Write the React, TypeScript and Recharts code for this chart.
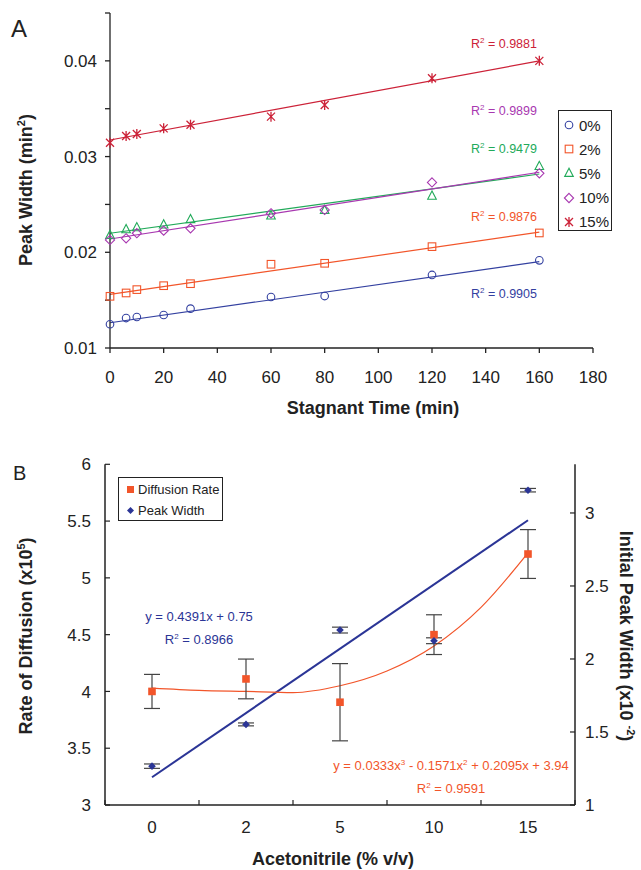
import React from 'react'
import {
  ComposedChart,
  ErrorBar,
  Line,
  Scatter,
  XAxis,
  YAxis,
} from 'recharts'

// ---- Panel A: peak width vs stagnant time ----
const times = [0, 6, 10, 20, 30, 60, 80, 120, 160]
const width0 = [0.01248, 0.01313, 0.01324, 0.01345, 0.01411, 0.01533, 0.01543, 0.01763, 0.01916]
const width2 = [0.0154, 0.01575, 0.0161, 0.01651, 0.01672, 0.01875, 0.01885, 0.02059, 0.02202]
const width5 = [0.0218, 0.0224, 0.0226, 0.0229, 0.02345, 0.02383, 0.0244, 0.0259, 0.029]
const width10 = [0.02129, 0.02146, 0.02199, 0.02226, 0.0225, 0.02407, 0.02442, 0.0273, 0.02825]
const width15 = [0.03145, 0.03215, 0.03236, 0.03295, 0.03333, 0.03417, 0.03539, 0.03818, 0.04]

// trendline ends read at t = 0 and t = 160
const trendX = [0, 160]
const trend0 = [0.01264, 0.01902]
const trend2 = [0.01561, 0.0221]
const trend5 = [0.02199, 0.02818]
const trend10 = [0.02139, 0.02836]
const trend15 = [0.03173, 0.04]

const seriesNames = ['0%', '2%', '5%', '10%', '15%']
const r2Labels = ['0.9905', '0.9876', '0.9479', '0.9899', '0.9881']
const timeTicks = [0, 20, 40, 60, 80, 100, 120, 140, 160, 180]
const widthTicks = [0.01, 0.015, 0.02, 0.025, 0.03, 0.035, 0.04, 0.045]

// ---- Panel B: diffusion rate and peak width vs acetonitrile ----
const acnLabels = ['0', '2', '5', '10', '15']
const diffRate = [4.0, 4.11, 3.905, 4.5, 5.21]
const diffErr = [0.15, 0.175, 0.34, 0.175, 0.215]
const initWidth = [1.266, 1.552, 2.198, 2.125, 3.156]
const initWidthErr = [0.015, 0.01, 0.02, 0.02, 0.012]
const widthFitX = [0, 4]
const widthFitY = [1.19, 2.95]
const diffFitX = [0, 0.5, 1, 1.5, 2, 2.5, 3, 3.5, 4]
const diffFitY = [4.03, 4.01, 4.0, 3.99, 4.05, 4.18, 4.4, 4.74, 5.22]
const rateTicks = [3, 3.5, 4, 4.5, 5, 5.5, 6]
const initTicks = [1, 1.5, 2, 2.5, 3]
const acnTicks = [-0.5, 0, 0.5, 1, 1.5, 2, 2.5, 3, 3.5, 4, 4.5]

const FONT = '"Liberation Sans", Arial, sans-serif'
const INK = '#222'
const TICK_FS = 17
const colors = ['#3340a0', '#f2552a', '#22aa5a', '#a838b0', '#cc2238']
const ORANGE = '#f2552a'
const NAVY = '#2b3596'

type ShapeKind = 'circle' | 'square' | 'triangle' | 'diamond' | 'star'
const shapes: ShapeKind[] = ['circle', 'square', 'triangle', 'diamond', 'star']

function Marker({ kind, cx, cy, color }: { kind: ShapeKind; cx: number; cy: number; color: string }) {
  const common = { fill: 'none', stroke: color, strokeWidth: 1.1 }
  if (kind === 'circle') return <circle cx={cx} cy={cy} r={3.8} {...common} />
  if (kind === 'square') return <rect x={cx - 3.8} y={cy - 3.8} width={7.6} height={7.6} {...common} />
  if (kind === 'triangle')
    return <polygon points={`${cx},${cy - 4.8} ${cx - 4.3},${cy + 3.4} ${cx + 4.3},${cy + 3.4}`} {...common} />
  if (kind === 'diamond')
    return <polygon points={`${cx},${cy - 4.6} ${cx + 4.6},${cy} ${cx},${cy + 4.6} ${cx - 4.6},${cy}`} {...common} />
  return (
    <path
      d={`M${cx - 4},${cy - 4}L${cx + 4},${cy + 4}M${cx - 4},${cy + 4}L${cx + 4},${cy - 4}M${cx},${cy - 5}L${cx},${cy + 5}`}
      {...common}
      strokeWidth={1.3}
    />
  )
}

const pts = (xs: number[], ys: number[]) => xs.map((x, i) => ({ x, y: ys[i] }))

const widthSets = [width0, width2, width5, width10, width15]
const trendSets = [trend0, trend2, trend5, trend10, trend15]

function abs(left: number, top: number, extra: React.CSSProperties = {}): React.CSSProperties {
  return { position: 'absolute', left, top, fontFamily: FONT, whiteSpace: 'nowrap', lineHeight: 1, ...extra }
}

function Rotated({ cx, cy, deg, children, size = 18 }: { cx: number; cy: number; deg: number; children: React.ReactNode; size?: number }) {
  return (
    <div
      style={abs(cx, cy, {
        transform: `translate(-50%, -50%) rotate(${deg}deg)`,
        fontSize: size,
        fontWeight: 'bold',
        color: INK,
      })}
    >
      {children}
    </div>
  )
}

function PanelA() {
  const r2Top = [287, 210, 142, 104, 37]
  return (
    <div style={{ position: 'absolute', left: 0, top: 0, width: 641, height: 430 }}>
      <ComposedChart width={641} height={430} margin={{ top: 13, right: 48, bottom: 0, left: 0 }}>
        <XAxis
          type="number"
          dataKey="x"
          domain={[0, 180]}
          ticks={timeTicks}
          height={82}
          tickSize={5}
          tickMargin={18}
          stroke={INK}
          strokeWidth={1.3}
          tick={{ fill: INK, fontSize: TICK_FS, fontFamily: FONT }}
        />
        <YAxis
          type="number"
          dataKey="y"
          domain={[0.01, 0.045]}
          ticks={widthTicks}
          width={110}
          tickSize={5}
          tickMargin={8}
          stroke={INK}
          strokeWidth={1.3}
          tick={{ fill: INK, fontSize: TICK_FS, fontFamily: FONT }}
          tickFormatter={(v: number) => (Math.abs(v * 100 - Math.round(v * 100)) < 1e-6 ? v.toFixed(2) : '')}
        />
        {trendSets.map((t, i) => (
          <Line
            key={'t' + i}
            data={pts(trendX, t)}
            dataKey="y"
            stroke={colors[i]}
            strokeWidth={1.2}
            dot={false}
            isAnimationActive={false}
          />
        ))}
        {widthSets.map((w, i) => (
          <Scatter
            key={'s' + i}
            data={pts(times, w)}
            dataKey="y"
            isAnimationActive={false}
            shape={(p: any) => <Marker kind={shapes[i]} cx={p.cx} cy={p.cy} color={colors[i]} />}
          />
        ))}
      </ComposedChart>

      <div style={abs(11, 17, { fontSize: 24, color: INK })}>A</div>
      {r2Labels.map((r, i) => (
        <div key={r} style={abs(471, r2Top[i], { fontSize: 12.5, color: colors[i] })}>
          R<sup style={{ fontSize: 8, verticalAlign: 5 }}>2</sup> = {r}
        </div>
      ))}

      <div
        style={abs(558, 110, {
          width: 54,
          height: 121,
          border: `1.3px solid ${INK}`,
          boxSizing: 'border-box',
          background: '#fff',
        })}
      >
        {seriesNames.map((n, i) => (
          <div key={n} style={{ position: 'absolute', left: 0, top: 4 + i * 24.2, height: 20, display: 'flex', alignItems: 'center' }}>
            <svg width={20} height={20}>
              <Marker kind={shapes[i]} cx={10} cy={10} color={colors[i]} />
            </svg>
            <span style={{ fontSize: 15, color: INK }}>{n}</span>
          </div>
        ))}
      </div>

      <div style={abs(373, 399, { transform: 'translateX(-50%)', fontSize: 18, fontWeight: 'bold', color: INK })}>
        Stagnant Time (min)
      </div>
      <Rotated cx={25} cy={190} deg={-90}>
        Peak Width (min<sup style={{ fontSize: 11, verticalAlign: 7 }}>2</sup>)
      </Rotated>
    </div>
  )
}

function XTickB(props: any) {
  const { x, y, payload } = props
  const v = payload.value as number
  if (Math.abs(v - Math.round(v)) > 1e-6) {
    return <line x1={x} y1={y} x2={x} y2={y - 5} stroke={INK} strokeWidth={1.2} />
  }
  return (
    <text x={x} y={y + 28} textAnchor="middle" fill={INK} fontSize={TICK_FS} fontFamily={FONT}>
      {acnLabels[Math.round(v)]}
    </text>
  )
}

function LeftTickB(props: any) {
  const { x, y, payload } = props
  return (
    <g>
      <line x1={x} y1={y} x2={x + 5} y2={y} stroke={INK} strokeWidth={1.2} />
      <text x={x - 14} y={y} dy="0.36em" textAnchor="end" fill={INK} fontSize={TICK_FS} fontFamily={FONT}>
        {payload.value}
      </text>
    </g>
  )
}

function RightTickB(props: any) {
  const { x, y, payload } = props
  return (
    <g>
      <line x1={x} y1={y} x2={x - 5} y2={y} stroke={INK} strokeWidth={1.2} />
      <text x={x + 10} y={y} dy="0.36em" textAnchor="start" fill={INK} fontSize={TICK_FS} fontFamily={FONT}>
        {payload.value}
      </text>
    </g>
  )
}

function PanelB() {
  const rateData = diffRate.map((y, i) => ({ x: i, y, err: diffErr[i] }))
  const widthData = initWidth.map((y, i) => ({ x: i, y, err: initWidthErr[i] }))
  return (
    <div style={{ position: 'absolute', left: 0, top: 440, width: 641, height: 430 }}>
      <ComposedChart width={641} height={430} margin={{ top: 24.3, right: 0, bottom: 0, left: 0 }}>
        <XAxis
          type="number"
          dataKey="x"
          domain={[-0.5, 4.5]}
          ticks={acnTicks}
          height={65}
          tickSize={0}
          tickMargin={0}
          tickLine={false}
          stroke={INK}
          strokeWidth={1.5}
          tick={<XTickB />}
          interval={0}
        />
        <YAxis
          yAxisId="L"
          type="number"
          domain={[3, 6]}
          ticks={rateTicks}
          width={105}
          tickSize={0}
          tickMargin={0}
          tickLine={false}
          stroke={INK}
          strokeWidth={1.5}
          tick={<LeftTickB />}
          interval={0}
        />
        <YAxis
          yAxisId="R"
          orientation="right"
          type="number"
          domain={[1, 3.3333]}
          ticks={initTicks}
          width={66}
          tickSize={0}
          tickMargin={0}
          tickLine={false}
          stroke={INK}
          strokeWidth={1.5}
          tick={<RightTickB />}
          interval={0}
        />
        <Line
          yAxisId="R"
          data={pts(widthFitX, widthFitY)}
          dataKey="y"
          stroke={NAVY}
          strokeWidth={2}
          dot={false}
          isAnimationActive={false}
        />
        <Line
          yAxisId="L"
          data={pts(diffFitX, diffFitY)}
          dataKey="y"
          type="monotone"
          stroke={ORANGE}
          strokeWidth={1.2}
          dot={false}
          isAnimationActive={false}
        />
        <Scatter
          yAxisId="L"
          data={rateData}
          dataKey="y"
          isAnimationActive={false}
          shape={(p: any) => <rect x={p.cx - 3.8} y={p.cy - 3.8} width={7.6} height={7.6} fill={ORANGE} />}
        >
          <ErrorBar dataKey="err" direction="y" width={8} stroke="#444" strokeWidth={1.2} isAnimationActive={false} />
        </Scatter>
        <Scatter
          yAxisId="R"
          data={widthData}
          dataKey="y"
          isAnimationActive={false}
          shape={(p: any) => (
            <polygon
              points={`${p.cx},${p.cy - 3.8} ${p.cx + 3.8},${p.cy} ${p.cx},${p.cy + 3.8} ${p.cx - 3.8},${p.cy}`}
              fill={NAVY}
            />
          )}
        >
          <ErrorBar dataKey="err" direction="y" width={8} stroke="#444" strokeWidth={1.2} isAnimationActive={false} />
        </Scatter>
      </ComposedChart>

      <div style={abs(13, 23, { fontSize: 20, color: INK })}>B</div>

      <div
        style={abs(118, 37, {
          width: 105,
          height: 44,
          border: `1.3px solid ${INK}`,
          boxSizing: 'border-box',
          background: '#fff',
          fontSize: 13,
          color: INK,
        })}
      >
        <div style={{ position: 'absolute', left: 6, top: 5, display: 'flex', alignItems: 'center' }}>
          <svg width={12} height={12}>
            <rect x={2} y={2} width={7} height={7} fill={ORANGE} />
          </svg>
          <span style={{ marginLeft: 1 }}>Diffusion Rate</span>
        </div>
        <div style={{ position: 'absolute', left: 6, top: 26, display: 'flex', alignItems: 'center' }}>
          <svg width={12} height={12}>
            <polygon points="5.5,2 9,5.5 5.5,9 2,5.5" fill={NAVY} />
          </svg>
          <span style={{ marginLeft: 1 }}>Peak Width</span>
        </div>
      </div>

      <div style={abs(199, 167, { transform: 'translateX(-50%)', fontSize: 13, color: NAVY, textAlign: 'center', lineHeight: '20px' })}>
        y = 0.4391x + 0.75
        <br />
        R<sup style={{ fontSize: 8, verticalAlign: 5 }}>2</sup> = 0.8966
      </div>
      <div style={abs(451, 313, { transform: 'translateX(-50%)', fontSize: 13, color: ORANGE, textAlign: 'center', lineHeight: '20px' })}>
        y = 0.0333x<sup style={{ fontSize: 8, verticalAlign: 5 }}>3</sup> - 0.1571x
        <sup style={{ fontSize: 8, verticalAlign: 5 }}>2</sup> + 0.2095x + 3.94
        <br />
        R<sup style={{ fontSize: 8, verticalAlign: 5 }}>2</sup> = 0.9591
      </div>

      <div style={abs(333, 410, { transform: 'translateX(-50%)', fontSize: 18, fontWeight: 'bold', color: INK })}>
        Acetonitrile (% v/v)
      </div>
      <Rotated cx={25} cy={196} deg={-90}>
        Rate of Diffusion (x10<sup style={{ fontSize: 11, verticalAlign: 7 }}>5</sup>)
      </Rotated>
      <Rotated cx={626} cy={196} deg={90}>
        Initial Peak Width (x10 <sup style={{ fontSize: 11, verticalAlign: 7 }}>-2</sup>)
      </Rotated>
    </div>
  )
}

export default function App() {
  return (
    <div style={{ position: 'absolute', left: 0, top: 0, width: 641, height: 870, background: '#fff' }}>
      <PanelA />
      <PanelB />
    </div>
  )
}
